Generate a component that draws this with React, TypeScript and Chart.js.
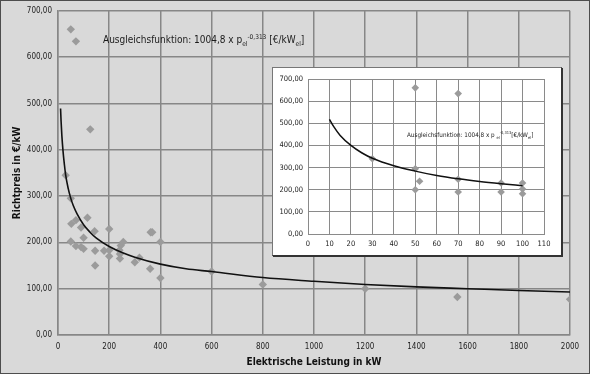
import React, { useEffect, useRef } from "react";
import { Chart, registerables } from "chart.js";
Chart.register(...registerables);

// ---- Main chart data (kW, €/kW) ----
const mainPointsX = [30, 50, 70, 50, 50, 52, 70, 70, 90, 90, 100, 100, 115, 126, 143, 145, 145, 180, 200, 200, 200, 240, 242, 242, 245, 255, 300, 318, 362, 368, 360, 400, 400, 600, 800, 1200, 1560, 2000];
const mainPointsY = [345, 660, 634, 295, 202, 240, 248, 192, 232, 190, 210, 186, 253, 444, 224, 182, 150, 182, 229, 183, 170, 183, 175, 165, 193, 201, 157, 167, 222, 222, 143, 201, 123, 137, 109, 100, 82, 77];

// trend curve
const mainTrendX = [10, 12, 15, 20, 25, 30, 40, 50, 60, 75, 100, 125, 150, 200, 250, 300, 400, 500, 600, 800, 1000, 1200, 1400, 1600, 1800, 2000];
const mainTrendY = [489, 462, 431, 395, 368, 345, 316, 295, 279, 261, 238, 222, 209, 191, 178, 168, 153, 143, 137, 124, 116, 109, 104, 100, 96, 93];

// ---- Inset data ----
const insetPointsX = [30, 50, 70, 50, 50, 52, 70, 70, 90, 90, 100, 100, 100];
const insetPointsY = [340, 660, 634, 295, 200, 238, 247, 190, 230, 190, 230, 203, 182];
const insetTrendX = [10, 12, 15, 20, 25, 30, 40, 50, 60, 70, 80, 90, 100];
const insetTrendY = [518, 485, 445, 400, 367, 342, 308, 284, 264, 249, 237, 227, 218];

// ---- Tick labels ----
const mainXTicks = ["0", "200", "400", "600", "800", "1000", "1200", "1400", "1600", "1800", "2000"];
const yTickLabels = ["0,00", "100,00", "200,00", "300,00", "400,00", "500,00", "600,00", "700,00"];
const insetXTicks = ["0", "10", "20", "30", "40", "50", "60", "70", "80", "90", "100", "110"];

const FONT = "'Liberation Sans Narrow', 'DejaVu Sans Condensed', Lato, sans-serif";
const POINT_COLOR = "#9b9b9b";
const GRID = "#878787";

function toXY(xs: number[], ys: number[]) {
  return xs.map((x, i) => ({ x, y: ys[i] }));
}

function MainChart() {
  const ref = useRef<HTMLCanvasElement | null>(null);
  useEffect(() => {
    if (!ref.current) return;
    const chart = new Chart(ref.current, {
      type: "scatter",
      data: {
        datasets: [
          {
            type: "line",
            data: toXY(mainTrendX, mainTrendY),
            borderColor: "#111",
            borderWidth: 1.6,
            pointRadius: 0,
            showLine: true,
            fill: false,
            cubicInterpolationMode: "monotone",
            order: 0,
          } as any,
          {
            data: toXY(mainPointsX, mainPointsY),
            pointStyle: "rectRot",
            pointRadius: 4.2,
            backgroundColor: POINT_COLOR,
            borderColor: POINT_COLOR,
            borderWidth: 0,
            showLine: false,
            order: 1,
          } as any,
        ],
      },
      options: {
        responsive: false,
        animation: false,
        layout: { padding: { left: 0, right: 20, top: 9, bottom: 0 } },
        plugins: { legend: { display: false }, tooltip: { enabled: false } },
        scales: {
          x: {
            type: "linear",
            min: 0,
            max: 2000,
            ticks: {
              stepSize: 200,
              padding: 7,
              color: "#222",
              autoSkip: false,
              maxRotation: 0,
              font: { family: FONT, size: 8 },
              callback: (v: any) => mainXTicks[Math.round(Number(v) / 200)],
            },
            grid: { color: GRID, lineWidth: 1.5, drawTicks: false },
            border: { display: true, color: GRID, width: 1.5 },
            title: {
              display: true,
              text: "Elektrische Leistung in kW",
              color: "#111",
              font: { family: FONT, size: 10, weight: "bold" },
              padding: { top: 0, bottom: 6 },
            },
            afterFit: (s: any) => {
              s.height = 39;
            },
          },
          y: {
            type: "linear",
            min: 0,
            max: 700,
            ticks: {
              stepSize: 100,
              padding: 6,
              color: "#222",
              font: { family: FONT, size: 8 },
              callback: (v: any) => yTickLabels[Math.round(Number(v) / 100)],
            },
            grid: { color: GRID, lineWidth: 1.5, drawTicks: false },
            border: { display: true, color: GRID, width: 1.5 },
            title: {
              display: true,
              text: "Richtpreis in €/kW",
              color: "#111",
              font: { family: FONT, size: 10, weight: "bold" },
              padding: { top: 11, bottom: 0 },
            },
            afterFit: (s: any) => {
              s.width = 58;
            },
          },
        },
      } as any,
    });
    return () => chart.destroy();
  }, []);
  return <canvas ref={ref} width={590} height={374} style={{ display: "block" }} />;
}

function InsetChart() {
  const ref = useRef<HTMLCanvasElement | null>(null);
  useEffect(() => {
    if (!ref.current) return;
    const chart = new Chart(ref.current, {
      type: "scatter",
      data: {
        datasets: [
          {
            type: "line",
            data: toXY(insetTrendX, insetTrendY),
            borderColor: "#111",
            borderWidth: 1.5,
            pointRadius: 0,
            showLine: true,
            fill: false,
            cubicInterpolationMode: "monotone",
            order: 0,
          } as any,
          {
            data: toXY(insetPointsX, insetPointsY),
            pointStyle: "rectRot",
            pointRadius: 3.8,
            backgroundColor: POINT_COLOR,
            borderColor: POINT_COLOR,
            borderWidth: 0,
            showLine: false,
            order: 1,
          } as any,
        ],
      },
      options: {
        responsive: false,
        animation: false,
        layout: { padding: { left: 0, right: 17, top: 11, bottom: 0 } },
        plugins: { legend: { display: false }, tooltip: { enabled: false } },
        scales: {
          x: {
            type: "linear",
            min: 0,
            max: 110,
            ticks: {
              stepSize: 10,
              padding: 6,
              color: "#222",
              autoSkip: false,
              maxRotation: 0,
              font: { family: FONT, size: 7.5 },
              callback: (v: any) => insetXTicks[Math.round(Number(v) / 10)],
            },
            grid: { color: "#8a8a8a", lineWidth: 1, drawTicks: false },
            border: { display: true, color: "#8a8a8a", width: 1 },
            afterFit: (s: any) => {
              s.height = 21;
            },
          },
          y: {
            type: "linear",
            min: 0,
            max: 700,
            ticks: {
              stepSize: 100,
              padding: 5,
              color: "#222",
              font: { family: FONT, size: 7.5 },
              callback: (v: any) => yTickLabels[Math.round(Number(v) / 100)],
            },
            grid: { color: "#8a8a8a", lineWidth: 1, drawTicks: false },
            border: { display: true, color: "#8a8a8a", width: 1 },
            afterFit: (s: any) => {
              s.width = 35;
            },
          },
        },
      } as any,
    });
    return () => chart.destroy();
  }, []);
  return <canvas ref={ref} width={288} height={187} style={{ display: "block" }} />;
}

export default function App() {
  return (
    <div
      style={{
        position: "absolute",
        left: 0,
        top: 0,
        width: 590,
        height: 374,
        background: "#d9d9d9",
        overflow: "hidden",
        fontFamily: FONT,
      }}
    >
      <MainChart />
      <div
        style={{
          position: "absolute",
          left: 103,
          top: 31,
          fontSize: 10,
          color: "#1a1a1a",
          whiteSpace: "nowrap",
          lineHeight: "13px",
        }}
      >
        Ausgleichsfunktion: 1004,8 x p<sub style={{ fontSize: 6.5 }}>el</sub>
        <sup style={{ fontSize: 6.5 }}>-0,313</sup> [€/kW<sub style={{ fontSize: 6.5 }}>el</sub>]
      </div>
      <div
        style={{
          position: "absolute",
          left: 272,
          top: 67,
          width: 288,
          height: 187,
          background: "#fff",
          borderLeft: "1px solid #777",
          borderTop: "1px solid #777",
          borderRight: "1px solid #333",
          borderBottom: "1px solid #333",
          boxShadow: "1px 1px 0 #333",
        }}
      >
        <InsetChart />
        <div
          style={{
            position: "absolute",
            left: 134,
            top: 61,
            fontSize: 6.3,
            color: "#222",
            whiteSpace: "nowrap",
            lineHeight: "8px",
          }}
        >
          Ausgleichsfunktion: 1004,8 x p <sub style={{ fontSize: 4 }}>el</sub>
          <sup style={{ fontSize: 4 }}>-0,313</sup>[€/kW<sub style={{ fontSize: 4 }}>el</sub>]
        </div>
      </div>
      <div
        style={{
          position: "absolute",
          left: 0,
          top: 0,
          width: 590,
          height: 374,
          boxSizing: "border-box",
          border: "1px solid #4d4d4d",
          pointerEvents: "none",
        }}
      />
    </div>
  );
}
